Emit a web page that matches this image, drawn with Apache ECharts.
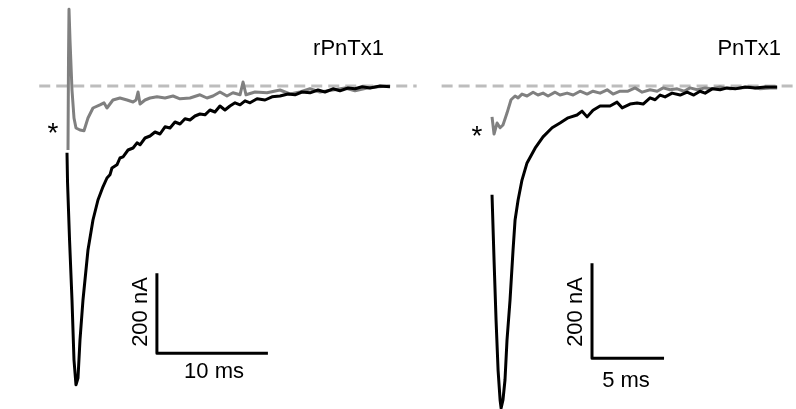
<!DOCTYPE html>
<html>
<head>
<meta charset="utf-8">
<script src="https://cdn.jsdelivr.net/npm/echarts@6/dist/echarts.min.js"></script>
<style>
html,body{margin:0;padding:0;background:#fff;}
#c{width:796px;height:409px;}
</style>
</head>
<body>
<div id="c"></div>
<script>
// ---- Left panel: rPnTx1 (time in ms, current in nA) ----
var leftBlackT = [0,0.05,0.23,0.45,0.63,0.81,0.99,1.17,1.44,1.89,2.34,2.79,3.24,3.6,3.87,4.05,4.5,4.77,5.05,5.5,5.95,6.31,6.58,7.03,7.48,7.93,8.38,8.83,9.28,9.73,10.18,10.63,11.08,11.53,11.98,12.43,12.88,13.33,13.78,14.23,14.68,15.14,15.59,16.04,16.49,17.12,17.84,18.47,19.19,19.91,20.54,21.17,21.89,22.61,23.24,23.96,24.59,25.32,25.95,26.58,27.3,28.2,29.1];
var leftBlackI = [-167,-242,-385,-535,-685,-747,-730,-635,-535,-410,-335,-285,-252,-230,-222,-205,-197,-180,-177,-160,-155,-142,-147,-130,-125,-115,-120,-102,-105,-90,-95,-82,-85,-75,-70,-72,-60,-65,-50,-60,-50,-42,-47,-37,-42,-32,-35,-27,-25,-20,-22,-15,-17,-10,-15,-7,-12,-5,-7,-2,-5,0,-2];
var leftGrayT = [0.09,0.135,0.18,0.27,0.45,0.63,0.81,1.17,1.53,1.89,2.34,2.97,3.33,3.6,4.14,4.77,5.41,5.95,6.22,6.4,6.58,7.03,7.48,8.11,8.83,9.55,10.18,11.08,11.98,12.61,13.15,13.78,14.41,14.95,15.59,15.86,16.13,16.94,18.02,19.19,20.09,20.99,21.89,22.79,23.96,25.05,25.95,27.03,28.02,29.1];
var leftGrayI = [-160,65,192,115,-10,-80,-105,-110,-112,-80,-55,-47,-42,-55,-35,-30,-35,-40,-35,-15,-45,-35,-30,-27,-30,-25,-32,-30,-22,-30,-25,-15,-25,-17,-22,10,-22,-15,-17,-10,-20,-15,-7,-15,-10,-5,-12,-5,-2,0];

// ---- Right panel: PnTx1 ----
var rightBlackT = [0,0.14,0.28,0.42,0.56,0.63,0.76,0.9,1.04,1.25,1.46,1.6,1.81,2.08,2.43,2.99,3.54,4.17,4.72,5.28,5.9,6.25,6.6,7.01,7.5,8.19,8.68,9.03,9.58,10.07,10.49,10.97,11.32,11.67,12.01,12.5,13.06,13.54,14.0,14.44,14.79,15.28,15.83,16.32,16.88,17.57,18.26,18.96,19.79];
var rightBlackI = [-229,-366,-493,-598,-661,-678,-661,-619,-535,-451,-345,-282,-240,-198,-162,-131,-107,-88,-78,-67,-61,-53,-65,-51,-42,-42,-34,-46,-38,-36,-38,-25,-29,-19,-23,-15,-19,-13,-19,-11,-15,-6,-8,-4,-6,-2,-4,-2,-2];
var rightGrayT = [0,0.14,0.35,0.56,0.76,1.04,1.32,1.6,1.81,2.08,2.43,2.85,3.19,3.54,3.89,4.38,4.72,5.21,5.63,6.11,6.6,7.01,7.5,7.99,8.4,8.89,9.44,9.93,10.42,10.97,11.46,11.88,12.36,12.85,13.33,13.75,14.24,14.79,15.28,15.83,16.53,17.22,17.92,18.61,19.31,19.79];
var rightGrayI = [-65,-101,-78,-88,-82,-57,-29,-21,-25,-17,-21,-13,-19,-15,-21,-13,-19,-15,-19,-11,-17,-11,-15,-8,-17,-11,-11,-4,-13,-8,-11,-4,-8,-6,-11,-4,-8,-4,-6,-2,-6,-4,-2,-6,-4,-4];

// scale bars (origin time, origin current, length time, length current)
var leftScale = {t0: 8.1, i0: -668, dt: 10, di: 200};
var rightScale = {t0: 6.94, i0: -573, dt: 5, di: 200};
var leftBase = [-2.5, 31.5];
var rightBase = [-3.5, 21.1];

function zip(t, v){ return t.map(function(x,i){ return [x, v[i]]; }); }
function bar(s){ return [[s.t0, s.i0 + s.di],[s.t0, s.i0],[s.t0 + s.dt, s.i0]]; }

var FONT = "'Liberation Sans', Arial, Helvetica, sans-serif";
var BLACK = '#000000', GRAY = '#808080', DASH = '#bdbdbd';

function lineSeries(idx, data, color, z, width, dashed){
  return {
    type: 'line', xAxisIndex: idx, yAxisIndex: idx, data: data,
    showSymbol: false, symbol: 'none', smooth: false, z: z, silent: true,
    lineStyle: {color: color, width: width, type: dashed ? [11,6] : 'solid', join: 'round', cap: 'butt'},
    animation: false
  };
}

var chart = echarts.init(document.getElementById('c'), null, {renderer: 'canvas'});
chart.setOption({
  animation: false,
  backgroundColor: '#ffffff',
  grid: [
    {left: 39.25, top: 6, width: 388.5, height: 400},
    {left: 441.6, top: 5.25, width: 354.4, height: 403.75}
  ],
  xAxis: [
    {type: 'value', gridIndex: 0, min: -2.5, max: 32.5, show: false},
    {type: 'value', gridIndex: 1, min: -3.5, max: 21.1, show: false}
  ],
  yAxis: [
    {type: 'value', gridIndex: 0, min: -800, max: 200, show: false},
    {type: 'value', gridIndex: 1, min: -680, max: 170, show: false}
  ],
  series: [
    lineSeries(0, [[leftBase[0],0],[leftBase[1],0]], DASH, 1, 3, true),
    lineSeries(0, zip(leftGrayT, leftGrayI), GRAY, 2, 3, false),
    lineSeries(0, zip(leftBlackT, leftBlackI), BLACK, 3, 3, false),
    lineSeries(0, bar(leftScale), BLACK, 3, 3, false),
    lineSeries(1, [[rightBase[0],0],[rightBase[1],0]], DASH, 1, 3, true),
    lineSeries(1, zip(rightGrayT, rightGrayI), GRAY, 2, 3, false),
    lineSeries(1, zip(rightBlackT, rightBlackI), BLACK, 3, 3, false),
    lineSeries(1, bar(rightScale), BLACK, 3, 3, false)
  ],
  graphic: [
    {type: 'text', x: 384, y: 49, style: {text: 'rPnTx1', fill: '#000', font: '22px ' + FONT, align: 'right', verticalAlign: 'middle'}},
    {type: 'text', x: 781, y: 49, style: {text: 'PnTx1', fill: '#000', font: '22px ' + FONT, align: 'right', verticalAlign: 'middle'}},
    {type: 'text', x: 214, y: 372, style: {text: '10 ms', fill: '#000', font: '22px ' + FONT, align: 'center', verticalAlign: 'middle'}},
    {type: 'text', x: 626, y: 381, style: {text: '5 ms', fill: '#000', font: '22px ' + FONT, align: 'center', verticalAlign: 'middle'}},
    {type: 'text', x: 141, y: 312, rotation: Math.PI/2, style: {text: '200 nA', fill: '#000', font: '22px ' + FONT, align: 'center', verticalAlign: 'middle'}},
    {type: 'text', x: 576, y: 312, rotation: Math.PI/2, style: {text: '200 nA', fill: '#000', font: '22px ' + FONT, align: 'center', verticalAlign: 'middle'}},
    {type: 'text', x: 53, y: 134, style: {text: '*', fill: '#000', font: '28px ' + FONT, align: 'center', verticalAlign: 'middle'}},
    {type: 'text', x: 477, y: 137, style: {text: '*', fill: '#000', font: '28px ' + FONT, align: 'center', verticalAlign: 'middle'}}
  ]
});
</script>
</body>
</html>
